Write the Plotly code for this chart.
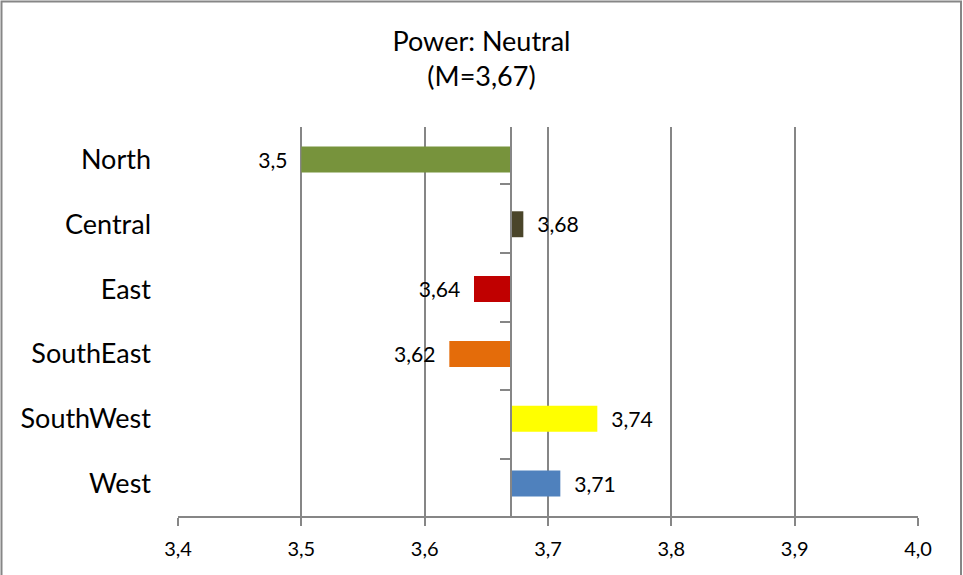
import plotly.graph_objects as go

regions = ["North", "Central", "East", "SouthEast", "SouthWest", "West"]
values = [3.50, 3.68, 3.64, 3.62, 3.74, 3.71]
colors = ["#77933C", "#4A452A", "#C00000", "#E46C0A", "#FFFF00", "#4F81BD"]
mean_value = 3.67
x_ticks = [3.4, 3.5, 3.6, 3.7, 3.8, 3.9, 4.0]
title_lines = ["Power: Neutral", "(M=3,67)"]

X_MIN, X_MAX = 3.4, 4.0
FONT = "Lato"
GRAY = "#868686"
NB = "\u00a0"

W, H = 963, 575
ML, MR, MT, MB = 178, 45, 127, 59

def fmt(v):
    s = f"{v:.2f}".rstrip("0")
    if s.endswith("."):
        s = s[:-1]
    return s.replace(".", ",")

texts = []
for v in values:
    if v < mean_value:
        texts.append(fmt(v) + NB * 2)
    else:
        texts.append(NB * 2 + fmt(v))

fig = go.Figure()
fig.add_trace(go.Bar(
    y=regions,
    x=[v - mean_value for v in values],
    base=mean_value,
    orientation="h",
    marker=dict(color=colors, line=dict(width=0)),
    width=0.4,
    text=texts,
    textposition="outside",
    cliponaxis=False,
    textfont=dict(family=FONT, size=22, color="#000000"),
    hoverinfo="skip",
    yaxis="y",
))
# invisible helper trace so the mean axis gets its categories
fig.add_trace(go.Scatter(
    y=regions, x=[mean_value] * len(regions), mode="markers",
    marker=dict(opacity=0), hoverinfo="skip", yaxis="y2", showlegend=False,
))

pw = W - ML - MR
ph = H - MT - MB
mean_pos = (mean_value - X_MIN) / (X_MAX - X_MIN)

fig.update_layout(
    width=W, height=H,
    margin=dict(l=ML, r=MR, t=MT, b=MB),
    paper_bgcolor="white", plot_bgcolor="white",
    separators=", ",
    showlegend=False,
    title=dict(
        text="<br>".join(title_lines),
        x=0.5, xref="container", xanchor="center",
        y=1 - 51 / H, yref="container", yanchor="top",
        font=dict(family=FONT, size=27, color="#000000"),
    ),
    xaxis=dict(
        range=[X_MIN, X_MAX],
        tickvals=x_ticks,
        tickformat=".1f",
        showgrid=True, gridcolor=GRAY, gridwidth=2,
        showline=True, linecolor=GRAY, linewidth=2,
        ticks="outside", ticklen=8, tickcolor=GRAY, tickwidth=2,
        ticklabelstandoff=6,
        tickfont=dict(family=FONT, size=20, color="#000000"),
        zeroline=False,
        fixedrange=True,
    ),
    yaxis=dict(
        type="category",
        categoryorder="array", categoryarray=regions,
        autorange="reversed",
        showgrid=False, showline=False, ticks="",
        ticklabelstandoff=26,
        tickfont=dict(family=FONT, size=27, color="#000000"),
        zeroline=False,
        fixedrange=True,
    ),
    yaxis2=dict(
        type="category",
        categoryorder="array", categoryarray=regions,
        overlaying="y", anchor="free", position=mean_pos,
        autorange="reversed",
        showgrid=False, showline=True, linecolor=GRAY, linewidth=2,
        ticks="outside", tickson="boundaries", ticklen=10, tickcolor=GRAY, tickwidth=2,
        showticklabels=False,
        zeroline=False,
        fixedrange=True,
    ),
    shapes=[dict(
        type="rect", xref="paper", yref="paper",
        x0=-(ML - 1.5) / pw, x1=1 + (MR - 2) / pw,
        y0=-(MB + 10) / ph, y1=1 + (MT - 1.5) / ph,
        line=dict(color=GRAY, width=2), fillcolor="rgba(0,0,0,0)",
        layer="below",
    )],
)

fig.write_html(
    "out.html",
    config={"displayModeBar": False},
    post_script="document.body.style.margin='0';document.body.style.overflow='hidden';",
)
